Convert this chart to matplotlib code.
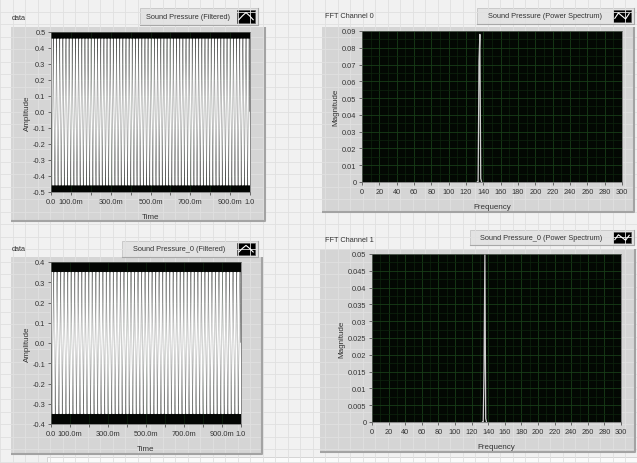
import numpy as np
import matplotlib
matplotlib.use("Agg")
import matplotlib.pyplot as plt
from matplotlib.patches import Rectangle
from matplotlib.ticker import MultipleLocator

plt.rcParams['font.family'] = ['Liberation Sans Narrow', 'Liberation Sans', 'DejaVu Sans']

W, H = 637, 464

# waveform channels (tone, amplitude from the time plots)
wave_titles = ["Sound Pressure (Filtered)", "Sound Pressure_0 (Filtered)"]
tone_freq = [136, 136]
tone_amp = [0.458, 0.35]
wave_ylim = [0.5, 0.4]
sample_rate = 10000
time_ticks = [0.0, 0.1, 0.2, 0.3, 0.4, 0.5, 0.6, 0.7, 0.8, 0.9, 1.0]
time_labels = ["0.0", "100.0m", "", "300.0m", "", "500.0m", "", "700.0m", "", "900.0m", "1.0"]
amp_ticks0 = [-0.5, -0.4, -0.3, -0.2, -0.1, 0.0, 0.1, 0.2, 0.3, 0.4, 0.5]
amp_ticks1 = [-0.4, -0.3, -0.2, -0.1, 0.0, 0.1, 0.2, 0.3, 0.4]

# power spectra
spec_titles = ["Sound Pressure (Power Spectrum)", "Sound Pressure_0 (Power Spectrum)"]
spec_names = ["FFT Channel 0", "FFT Channel 1"]
spec_freq = [133, 134, 135, 136, 137, 138]
spec_mag0 = [0.0, 0.0, 0.072, 0.088, 0.002, 0.0]
spec_mag1 = [0.0, 0.0, 0.016, 0.05, 0.001, 0.0]
spec_ymax = [0.09, 0.05]
spec_ystep = [0.01, 0.005]
freq_ticks = list(range(0, 301, 20))


def box(x0, y0, x1, y1):
    return [x0 / W, 1 - y1 / H, (x1 - x0) / W, (y1 - y0) / H]


fig = plt.figure(figsize=(W / 100, H / 100), dpi=100)
fig.patch.set_facecolor("#f1f1f1")

bg = fig.add_axes([0, 0, 1, 1])
bg.set_xlim(0, W)
bg.set_ylim(H, 0)
bg.axis("off")
for g in np.arange(0, W, 12.5):
    bg.axvline(g, color="#e0e0e0", lw=0.6)
for g in np.arange(0, H, 12.5):
    bg.axhline(g, color="#e0e0e0", lw=0.6)

# panel frames (x0, y0, x1, y1)
frames = [(11, 28, 265, 222), (322, 28, 634, 213), (11, 258, 262, 455), (320, 250, 635, 453)]
for x0, y0, x1, y1 in frames:
    bg.add_patch(Rectangle((x0, y0), x1 - x0, y1 - y0, facecolor="#d5d5d5", edgecolor="none"))
    bg.plot([x1, x1, x0], [y0, y1, y1], color="#a3a3a3", lw=1.5, solid_capstyle="butt")

# scrollbar strip at the bottom
bg.add_patch(Rectangle((47, 458), W - 47, 8, facecolor="#fbfbfb", edgecolor="#cfcfcf", lw=0.6))

# names and legend boxes
names = [("data", 12, 18), ("FFT Channel 0", 325, 17), ("data", 12, 250), ("FFT Channel 1", 325, 241)]
for s, x, y in names:
    bg.text(x, y, s, fontsize=5.3, color="#333333", va="center")

legends = [(wave_titles[0], 140, 9, 258, 26), (spec_titles[0], 477, 9, 634, 25),
           (wave_titles[1], 122, 242, 258, 258), (spec_titles[1], 470, 231, 634, 246)]
icon_wave = ([0.1, 0.3, 0.5, 0.7, 0.9], [0.25, 0.55, 0.8, 0.55, 0.25])
icon_spec = ([0.1, 0.3, 0.5, 0.7, 0.9], [0.3, 0.75, 0.5, 0.25, 0.7])
for i, (s, x0, y0, x1, y1) in enumerate(legends):
    bg.add_patch(Rectangle((x0, y0), x1 - x0, y1 - y0, facecolor="#e3e3e3", edgecolor="#c4c4c4", lw=0.6))
    bg.plot([x1, x1, x0], [y0, y1, y1], color="#a8a8a8", lw=0.8)
    ix0, ix1 = x1 - 21, x1 - 3
    iy0, iy1 = y0 + 2, y1 - 2
    bg.text((x0 + ix0) / 2, (y0 + y1) / 2, s, fontsize=5.3, color="#333333", ha="center", va="center")
    bg.add_patch(Rectangle((ix0, iy0), ix1 - ix0, iy1 - iy0, facecolor="black", edgecolor="#555555", lw=0.5))
    ix, iy = icon_wave if i % 2 == 0 else icon_spec
    bg.plot([ix0 + v * (ix1 - ix0) for v in ix], [iy1 - v * (iy1 - iy0) for v in iy],
            color="white", lw=0.8)

tick_kw = dict(labelsize=5.3, labelcolor="#333333", color="#555555", length=2.5, width=0.6, pad=1.5)
grid_major = "#183d18"
grid_minor = "#0e240e"

# waveform graphs
wave_boxes = [(51, 33, 250, 193), (51, 263, 241, 425)]
for k, (x0, y0, x1, y1) in enumerate(wave_boxes):
    ax = fig.add_axes(box(x0, y0, x1, y1))
    ax.set_facecolor("#030503")
    t = np.arange(0, 1 + 1 / sample_rate, 1 / sample_rate)
    ax.plot(t, tone_amp[k] * np.sin(2 * np.pi * tone_freq[k] * t), color="white", lw=0.45)
    ax.set_xlim(0, 1)
    ax.set_ylim(-wave_ylim[k], wave_ylim[k])
    ax.set_xticks(time_ticks)
    ax.set_xticklabels(time_labels)
    yt = amp_ticks0 if k == 0 else amp_ticks1
    ax.set_yticks(yt)
    ax.set_yticklabels(["%.1f" % v for v in yt])
    ax.tick_params(**tick_kw)
    ax.grid(True, color=grid_minor, lw=0.5)
    ax.set_axisbelow(True)
    for sp in ax.spines.values():
        sp.set_color("#666666")
        sp.set_linewidth(0.5)
    ax.set_xlabel("Time", fontsize=5.8, color="#333333", labelpad=6)
    ax.set_ylabel("Amplitude", fontsize=5.8, color="#333333", labelpad=1)

# spectrum graphs
spec_boxes = [(362, 32, 622, 183), (372, 255, 621, 423)]
spec_mags = [spec_mag0, spec_mag1]
for k, (x0, y0, x1, y1) in enumerate(spec_boxes):
    ax = fig.add_axes(box(x0, y0, x1, y1))
    ax.set_facecolor("#030803")
    ax.plot(spec_freq, spec_mags[k], color="#cfcfcf", lw=0.9)
    ax.set_xlim(0, 300)
    ax.set_ylim(0, spec_ymax[k])
    ax.set_xticks(freq_ticks)
    ax.xaxis.set_minor_locator(MultipleLocator(10))
    step = spec_ystep[k]
    yt = [round(i * step, 4) for i in range(int(round(spec_ymax[k] / step)) + 1)]
    ax.set_yticks(yt)
    ax.set_yticklabels(["0"] + [("%g" % v) for v in yt[1:]])
    ax.yaxis.set_minor_locator(MultipleLocator(step / 2))
    ax.tick_params(**tick_kw)
    ax.tick_params(which="minor", length=0)
    ax.grid(True, which="major", color=grid_major, lw=0.6)
    ax.grid(True, which="minor", color=grid_minor, lw=0.5)
    ax.set_axisbelow(True)
    for sp in ax.spines.values():
        sp.set_color("#666666")
        sp.set_linewidth(0.5)
    ax.set_xlabel("Frequency", fontsize=5.8, color="#333333", labelpad=6)
    ax.set_ylabel("Magnitude", fontsize=5.8, color="#333333", labelpad=2)

fig.savefig("out.png", dpi=100, facecolor=fig.get_facecolor())
